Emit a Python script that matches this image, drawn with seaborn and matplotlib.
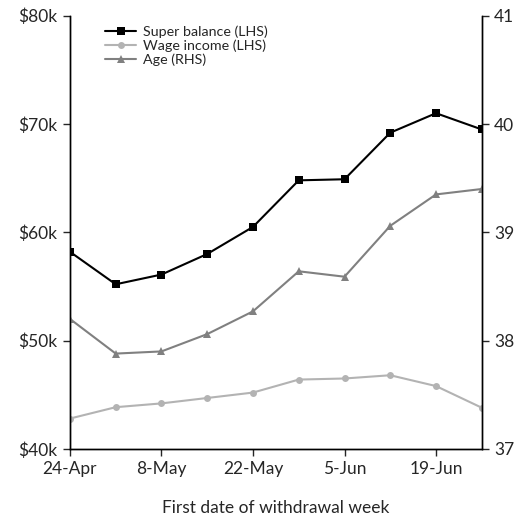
import pandas as pd
import seaborn as sns
import matplotlib.pyplot as plt
import matplotlib.dates as mdates

# Dados
semanas = ['2020-04-24', '2020-05-01', '2020-05-08', '2020-05-15', '2020-05-22',
           '2020-05-29', '2020-06-05', '2020-06-12', '2020-06-19', '2020-06-26']
saldo_super = [58.2, 55.2, 56.1, 58.0, 60.5, 64.8, 64.9, 69.2, 71.0, 69.5]
renda_salario = [42.8, 43.85, 44.2, 44.7, 45.2, 46.4, 46.5, 46.8, 45.8, 43.8]
idade = [38.2, 37.88, 37.9, 38.06, 38.27, 38.64, 38.59, 39.06, 39.35, 39.4]

df = pd.DataFrame({
    'semana': pd.to_datetime(semanas),
    'super': saldo_super,
    'salario': renda_salario,
    'idade': idade,
})

sns.set_style('ticks')
plt.rcParams['font.family'] = ['Lato', 'DejaVu Sans']

fig = plt.figure(figsize=(5.3, 5.25), dpi=100)
ax = fig.add_axes([0.132, 0.145, 0.777, 0.825])
ax2 = ax.twinx()

sns.lineplot(data=df, x='semana', y='super', ax=ax, color='black', marker='s',
             markersize=5.5, markeredgewidth=0, linewidth=1.5, label='Super balance (LHS)')
sns.lineplot(data=df, x='semana', y='salario', ax=ax, color='#b3b3b3', marker='o',
             markersize=5, markeredgewidth=0, linewidth=1.5, label='Wage income (LHS)')
sns.lineplot(data=df, x='semana', y='idade', ax=ax2, color='#808080', marker='^',
             markersize=6, markeredgewidth=0, linewidth=1.5, label='Age (RHS)')

ax.set_ylim(40, 80)
ax.set_yticks([40, 50, 60, 70, 80])
ax.set_yticklabels(['$40k', '$50k', '$60k', '$70k', '$80k'])
ax2.set_ylim(37, 41)
ax2.set_yticks([37, 38, 39, 40, 41])

ax.set_xlim(df['semana'].iloc[0], df['semana'].iloc[-1])
ax.set_xticks(df['semana'].iloc[::2])
ax.xaxis.set_major_formatter(mdates.DateFormatter('%-d-%b'))

ax.set_ylabel('')
ax2.set_ylabel('')
ax.set_xlabel('First date of withdrawal week', fontsize=12.5, labelpad=16)

for a in (ax, ax2):
    a.tick_params(labelsize=12.5, length=5, width=1, direction='out', pad=4)
    a.spines['top'].set_visible(False)
    for s in a.spines.values():
        s.set_color('black')
        s.set_linewidth(1)

# Legenda combinada
h1, l1 = ax.get_legend_handles_labels()
h2, l2 = ax2.get_legend_handles_labels()
if ax2.get_legend() is not None:
    ax2.get_legend().remove()
ax.legend(h1 + h2, l1 + l2, loc='upper left', bbox_to_anchor=(0.055, 1.008),
          frameon=False, fontsize=10.3, handlelength=2.1, handletextpad=0.5,
          labelspacing=0.12)

fig.savefig('out.png', dpi=100)
